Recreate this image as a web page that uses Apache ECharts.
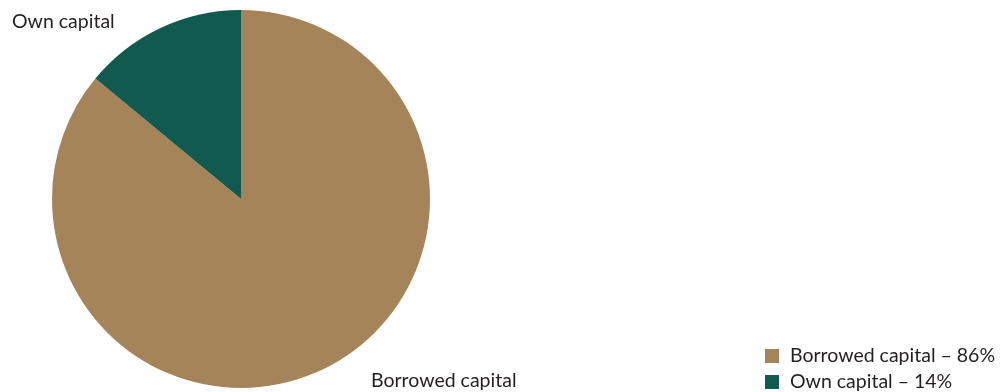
<!DOCTYPE html>
<html><head><meta charset="utf-8">
<script src="https://cdn.jsdelivr.net/npm/echarts@6/dist/echarts.min.js"></script>
<style>html,body{margin:0;padding:0;background:#fff}#c{width:1006px;height:392px}</style>
</head><body><div id="c"></div>
<script>
const categories = ['Borrowed capital', 'Own capital'];
const values = [86, 14];
const colors = ['#A6845A', '#115A4F'];
const labelPos = [
  {x: 371, y: 381, align: 'left'},
  {x: 12, y: 22, align: 'left'}
];
const legendTops = [346, 372];
const chart = echarts.init(document.getElementById('c'));
const font = 'Lato, "Noto Sans", sans-serif';
const fs = 19.5;
chart.setOption({
  animation: false,
  color: colors,
  legend: categories.map((n, i) => ({
    orient: 'vertical',
    left: 765, top: legendTops[i],
    padding: 0,
    itemWidth: 14, itemHeight: 14,
    icon: 'rect',
    selectedMode: false,
    data: [n],
    formatter: function (name) {
      const k = categories.indexOf(name);
      return name + ' – ' + values[k] + '%';
    },
    textStyle: {fontSize: fs, lineHeight: 20, color: '#231F20', fontFamily: font, padding: [0,0,0,6]}
  })),
  series: [{
    type: 'pie',
    center: [241, 199],
    radius: 189,
    startAngle: 90,
    clockwise: true,
    label: {show: true, position: 'outside', fontSize: fs, color: '#231F20', fontFamily: font},
    labelLine: {show: false},
    labelLayout: function (p) {
      const lp = labelPos[p.dataIndex];
      return {x: lp.x, y: lp.y, align: lp.align, verticalAlign: 'middle'};
    },
    emphasis: {disabled: true},
    data: categories.map((n, i) => ({name: n, value: values[i]}))
  }]
});
</script></body></html>
